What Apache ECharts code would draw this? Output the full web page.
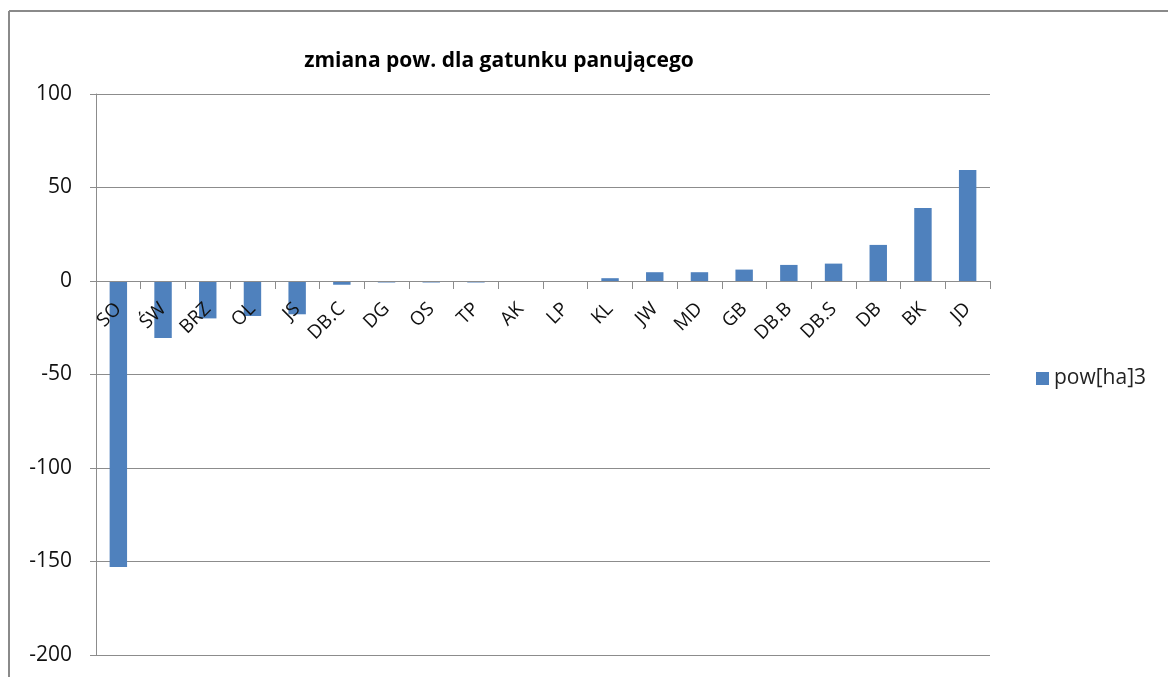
<!DOCTYPE html>
<html><head><meta charset="utf-8">
<script src="https://cdn.jsdelivr.net/npm/echarts@6/dist/echarts.min.js"></script>
<style>html,body{margin:0;padding:0;background:#fff}#c{width:1168px;height:677px}</style>
</head><body><div id="c"></div>
<script>
const categories = ['SO','ŚW','BRZ','OL','JS','DB.C','DG','OS','TP','AK','LP','KL','JW','MD','GB','DB.B','DB.S','DB','BK','JD'];
const values = [-153,-30.5,-20,-18.7,-17.8,-2,-0.8,-0.8,-0.8,0,0,1.5,4.7,4.7,6.1,8.6,9.3,19.3,39,59.4];
const seriesName = 'pow[ha]3';
const titleText = 'zmiana pow. dla gatunku panującego';
const yMin = -200, yMax = 100, yStep = 50;

const W = 1168, H = 677;
const gridLeft = 96, gridRight = 178, gridTop = 94, gridBottom = 22;
const plotH = H - gridTop - gridBottom;
// shift the category axis up to the zero line of the value scale
const zeroOffset = -((0 - yMin) / (yMax - yMin)) * plotH;

const chart = echarts.init(document.getElementById('c'));
chart.setOption({
  animation: false,
  backgroundColor: '#fff',
  title: {
    text: titleText, left: 494, top: 46, textAlign: 'center',
    textStyle: {fontFamily: 'Open Sans', fontWeight: 'bold', fontSize: 21, color: '#000'}
  },
  legend: {
    left: 1031, top: 363, itemWidth: 13, itemHeight: 13, itemGap: 5,
    icon: 'rect',
    textStyle: {fontFamily: 'Open Sans', fontSize: 21, color: '#222'},
    data: [seriesName]
  },
  grid: {left: gridLeft, right: gridRight, top: gridTop, bottom: gridBottom, containLabel: false, outerBoundsMode: 'none'},
  xAxis: {
    type: 'category', data: categories, position: 'bottom', offset: zeroOffset, z: 5,
    axisLine: {onZero: false, lineStyle: {color: '#8c8c8c', width: 1}},
    axisTick: {show: true, alignWithLabel: false, length: 8, lineStyle: {color: '#8c8c8c'}},
    axisLabel: {rotate: 45, interval: 0, margin: 25, fontFamily: 'Open Sans', fontSize: 19, color: '#111'}
  },
  yAxis: {
    type: 'value', min: yMin, max: yMax, interval: yStep,
    axisLine: {show: true, lineStyle: {color: '#8c8c8c'}},
    axisTick: {show: true, length: 6, lineStyle: {color: '#8c8c8c'}},
    axisLabel: {margin: 24, fontFamily: 'Open Sans', fontSize: 21, color: '#111'},
    splitLine: {lineStyle: {color: '#8c8c8c', width: 1}}
  },
  series: [{
    name: seriesName, type: 'bar', data: values, barWidth: '39%',
    itemStyle: {color: '#4F81BD'}
  }],
  graphic: [
    {type: 'line', shape: {x1: 9, y1: 11, x2: 1168, y2: 11}, style: {stroke: '#8a8a8a', lineWidth: 2}},
    {type: 'line', shape: {x1: 9, y1: 11, x2: 9, y2: 677}, style: {stroke: '#8a8a8a', lineWidth: 2}}
  ]
});
</script></body></html>
